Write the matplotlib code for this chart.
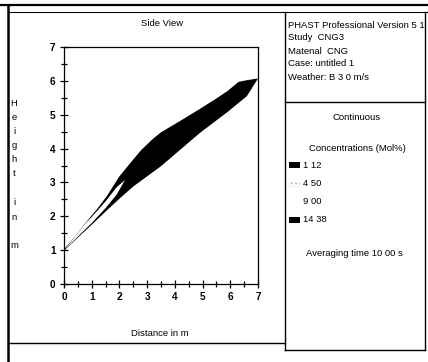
import matplotlib
matplotlib.use("Agg")
import matplotlib.pyplot as plt
from matplotlib.lines import Line2D
from matplotlib.patches import Rectangle
import numpy as np

W, H = 428, 362

# ---- data ----
upper_x = [0.0, 0.4, 0.75, 1.2, 1.55, 2.0, 2.4, 2.8, 3.2, 3.5, 4.2, 4.9, 5.5, 5.9, 6.3, 6.6, 7.0]
upper_y = [1.02, 1.40, 1.78, 2.22, 2.60, 3.18, 3.58, 3.97, 4.28, 4.48, 4.82, 5.17, 5.48, 5.70, 5.97, 6.02, 6.07]
lower_x = [7.0, 6.6, 5.9, 4.9, 4.0, 3.5, 3.0, 2.5, 2.0, 1.5, 1.0, 0.5, 0.0]
lower_y = [6.07, 5.55, 5.08, 4.46, 3.83, 3.48, 3.18, 2.88, 2.52, 2.14, 1.75, 1.37, 0.98]
lens_x = [0.05, 0.4, 0.76, 1.0, 1.5, 1.9, 2.2, 1.9, 1.5, 1.0, 0.5, 0.05]
lens_y = [1.03, 1.40, 1.78, 1.98, 2.44, 2.86, 3.07, 2.64, 2.24, 1.80, 1.40, 1.02]

info_lines = ["PHAST Professional Version 5 1", "Study  CNG3", "Matenal  CNG",
              "Case: untitled 1", "Weather: B 3 0 m/s"]
conc_labels = ["1 12", "4 50", "9 00", "14 38"]
x_ticks = [0, 1, 2, 3, 4, 5, 6, 7]
y_ticks = [0, 1, 2, 3, 4, 5, 6, 7]

FONT = ['Liberation Sans Narrow', 'Liberation Sans', 'DejaVu Sans']
plt.rcParams['font.family'] = FONT
FS = 6.8

fig = plt.figure(figsize=(W / 100, H / 100), dpi=100)
fig.patch.set_facecolor('white')


def P(x, y):
    return (x / W, 1 - y / H)


def hline(y, x0, x1, lw=1.0):
    fig.add_artist(Line2D([x0 / W, x1 / W], [1 - y / H, 1 - y / H], color='black', lw=lw,
                          transform=fig.transFigure))


def vline(x, y0, y1, lw=1.0):
    fig.add_artist(Line2D([x / W, x / W], [1 - y0 / H, 1 - y1 / H], color='black', lw=lw,
                          transform=fig.transFigure))


def ftext(x, y, s, **kw):
    fig.text(x / W, 1 - y / H, s, color='black', **kw)


# ---- frame ----
hline(5, 0, 428, lw=1.6)
hline(12, 8, 428, lw=0.8)
vline(8, 5, 362, lw=1.8)
vline(285, 12, 350, lw=1.0)
vline(425, 12, 350, lw=1.0)
hline(102, 285, 425, lw=1.0)
hline(350, 285, 425, lw=1.0)
hline(343, 8, 285, lw=1.0)

# ---- axes ----
ax = fig.add_axes([64 / W, (H - 284) / H, 194 / W, 237 / H])
ax.set_xlim(0, 7)
ax.set_ylim(0, 7)
ax.fill(upper_x + lower_x, upper_y + lower_y, color='black', lw=0)
ax.fill(lens_x, lens_y, color='white', lw=0)
ax.set_xticks(x_ticks)
ax.set_yticks(y_ticks)
ax.set_xticks(np.arange(0, 7.01, 0.5), minor=True)
ax.set_yticks(np.arange(0, 7.01, 0.5), minor=True)
ax.tick_params(which='both', direction='inout', length=6, width=0.9, color='black',
               labelsize=7.2, pad=3)
ax.tick_params(which='minor', length=5)
for lab in ax.get_xticklabels() + ax.get_yticklabels():
    lab.set_fontweight('bold')
for s in ax.spines.values():
    s.set_linewidth(0.9)

ftext(162, 24, "Side View", ha='center', va='center', fontsize=FS)
ftext(160, 333, "Distance in m", ha='center', va='center', fontsize=FS)

ylab_chars = ["H", "e", "i", "g", "h", "t", "i", "n", "m"]
ylab_pos = [104, 118, 132, 146, 160, 174, 203, 217, 245]
for c, yy in zip(ylab_chars, ylab_pos):
    ftext(14, yy, c, ha='center', va='center', fontsize=FS)

# ---- right panel ----
for i, line in enumerate(info_lines):
    ftext(288, 25 + 13 * i, line, ha='left', va='center', fontsize=FS)

ftext(357, 117, "Continuous", ha='center', va='center', fontsize=FS)
ftext(357, 148, "Concentrations (Mol%)", ha='center', va='center', fontsize=FS)

conc_y = [165, 184, 202, 220]
sw_face = ['black', '#d9d9d9', 'white', 'black']
sw_hatch = [None, '....', None, None]
for lab, yy, fc, hc in zip(conc_labels, conc_y, sw_face, sw_hatch):
    x0, y0 = P(289, yy + 3)
    r = Rectangle((x0, y0), 11 / W, 6 / H, transform=fig.transFigure,
                  facecolor=fc if hc is None else 'white',
                  edgecolor='none' if hc is None else '#bbbbbb', hatch=hc, lw=0)
    fig.add_artist(r)
    ftext(303, yy, lab, ha='left', va='center', fontsize=FS)

ftext(354, 254, "Averaging time 10 00 s", ha='center', va='center', fontsize=FS)

fig.savefig("out.png", dpi=100, facecolor='white')
